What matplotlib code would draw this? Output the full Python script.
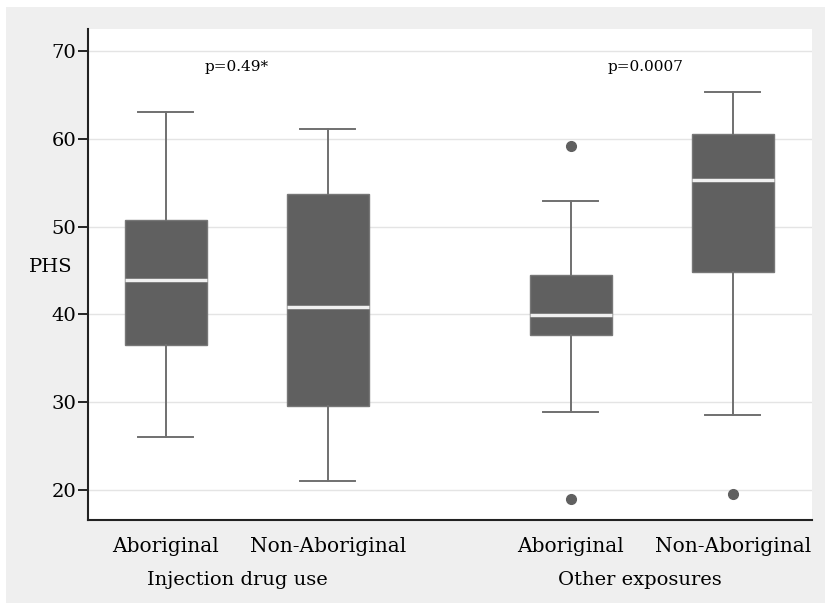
import matplotlib
matplotlib.use("Agg")
import matplotlib.pyplot as plt
from matplotlib.patches import Rectangle

plt.rcParams['font.family'] = ['DejaVu Serif']

categories = ["Aboriginal", "Non-Aboriginal", "Aboriginal", "Non-Aboriginal"]
groups = ["Injection drug use", "Other exposures"]
p_values = ["p=0.49*", "p=0.0007"]
positions = [1, 2, 3.5, 4.5]
whislo = [26.0, 21.0, 28.9, 28.5]
q1 = [36.5, 29.6, 37.7, 44.8]
med = [43.9, 40.9, 39.9, 55.3]
q3 = [50.8, 53.7, 44.5, 60.6]
whishi = [63.0, 61.1, 52.9, 65.3]
fliers = [[], [], [59.2, 19.0], [19.6]]
yticks = [20, 30, 40, 50, 60, 70]

W, H = 825, 605
fig = plt.figure(figsize=(W / 100, H / 100), dpi=100, facecolor='white')
fig.patches.append(Rectangle((6 / W, 2 / H), 1.0, (H - 9) / H,
                             transform=fig.transFigure, facecolor='#efefef',
                             edgecolor='none', zorder=-10))
ax = fig.add_axes([88 / W, (H - 520) / H, (812 - 88) / W, (520 - 29) / H])
ax.set_facecolor('white')

stats = []
for i in range(len(categories)):
    stats.append(dict(whislo=whislo[i], q1=q1[i], med=med[i], q3=q3[i],
                      whishi=whishi[i], fliers=fliers[i]))

box_color = '#606060'
ax.bxp(stats, positions=positions, widths=0.505, patch_artist=True,
       showfliers=True, showcaps=True,
       boxprops=dict(facecolor=box_color, edgecolor='#777777', linewidth=1.0),
       medianprops=dict(color='#f0f0f0', linewidth=2.5),
       whiskerprops=dict(color='#707070', linewidth=1.4),
       capprops=dict(color='#707070', linewidth=1.4),
       capwidths=0.34,
       flierprops=dict(marker='o', markerfacecolor=box_color,
                       markeredgecolor=box_color, markersize=7))

ax.set_xlim(0.52, 4.99)
ax.set_ylim(16.6, 72.5)
ax.set_yticks(yticks)
ax.set_yticklabels([str(t) for t in yticks], fontsize=14)
ax.set_xticks(positions)
ax.set_xticklabels(categories, fontsize=14.5)
ax.tick_params(axis='x', length=0, pad=12)
ax.tick_params(axis='y', length=7.5, width=1.2, color='black', pad=1)
ax.yaxis.grid(True, color='#e4e4e4', linewidth=1.0)
ax.set_axisbelow(True)
for s in ['top', 'right']:
    ax.spines[s].set_visible(False)
for s in ['left', 'bottom']:
    ax.spines[s].set_linewidth(1.5)
    ax.spines[s].set_color('#222222')

# group labels
grp_x = [1.44, 3.93]
for gx, g in zip(grp_x, groups):
    ax.text(gx, -0.122, g, transform=ax.get_xaxis_transform(), ha='center',
            va='center', fontsize=14)

# p-values
p_x = [1.44, 3.96]
for px, p in zip(p_x, p_values):
    ax.text(px, 68.2, p, ha='center', va='center', fontsize=11)

# y label
fig.text(51 / W, 1 - 267 / H, "PHS", ha='center', va='center', fontsize=14)

fig.savefig("out.png", dpi=100, facecolor=fig.get_facecolor())
